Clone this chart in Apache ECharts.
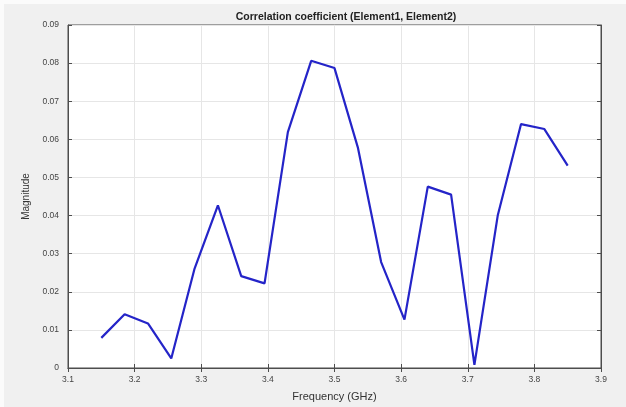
<!DOCTYPE html>
<html><head><meta charset="utf-8">
<script src="https://cdn.jsdelivr.net/npm/echarts@6/dist/echarts.min.js"></script>
<style>html,body{margin:0;padding:0;background:#f0f0f0;}#c{width:626px;height:407px;}</style>
</head><body><div id="c"></div>
<script>
const titleText = 'Correlation coefficient (Element1, Element2)';
const xName = 'Frequency (GHz)';
const yName = 'Magnitude';
const freq = [3.15,3.185,3.22,3.255,3.29,3.325,3.36,3.395,3.43,3.465,3.5,3.535,3.57,3.605,3.64,3.675,3.71,3.745,3.78,3.815,3.85];
const magnitude = [0.0079,0.0141,0.0117,0.0025,0.0261,0.0427,0.0241,0.0222,0.0619,0.0806,0.0787,0.0579,0.0278,0.0127,0.0476,0.0455,0.0008,0.0400,0.0640,0.0627,0.0531];
const xTicks = [3.1,3.2,3.3,3.4,3.5,3.6,3.7,3.8,3.9];
const yTicks = [0,0.01,0.02,0.03,0.04,0.05,0.06,0.07,0.08,0.09];

const chart = echarts.init(document.getElementById('c'), null, {renderer:'canvas'});
const font = 'Liberation Sans, Arial, sans-serif';
const axisCol = '#4d4d4d';
const fmtY = v => v === 0 ? '0' : v.toFixed(2);
chart.setOption({
  backgroundColor: '#f0f0f0',
  animation: false,
  graphic: [
    {type: 'rect', left: 0, top: 0, z: -10, shape: {width: 626, height: 4}, style: {fill: '#fbfbfb'}},
    {type: 'rect', left: 0, top: 0, z: -10, shape: {width: 4, height: 407}, style: {fill: '#fbfbfb'}}
  ],
  title: {text: titleText, left: 341, top: 7, textAlign: 'center',
    textStyle: {fontFamily: font, fontSize: 10.5, fontWeight: 'bold', color: '#222'}},
  grid: {left: 68, right: 25, top: 25, bottom: 39, show: true, backgroundColor: '#fff', borderColor: axisCol, borderWidth: 1},
  xAxis: [{
    type: 'value', min: xTicks[0], max: xTicks[xTicks.length-1], interval: 0.1,
    name: xName, nameLocation: 'middle', nameGap: 23,
    nameTextStyle: {fontFamily: font, fontSize: 11, color: '#333'},
    axisLine: {show: true, lineStyle: {color: axisCol}},
    axisTick: {show: true, inside: true, length: 4, lineStyle: {color: axisCol}},
    axisLabel: {fontFamily: font, fontSize: 8.5, color: '#444', margin: 7, formatter: v => v.toFixed(1)},
    splitLine: {show: true, lineStyle: {color: '#e6e6e6'}}
  },{
    type: 'value', position: 'top', min: xTicks[0], max: xTicks[xTicks.length-1], interval: 0.1,
    axisLine: {show: true, lineStyle: {color: axisCol}},
    axisTick: {show: true, inside: true, length: 4, lineStyle: {color: axisCol}},
    axisLabel: {show: false}, splitLine: {show: false}
  }],
  yAxis: [{
    type: 'value', min: yTicks[0], max: yTicks[yTicks.length-1], interval: 0.01,
    name: yName, nameLocation: 'middle', nameGap: 36, nameRotate: 90,
    nameTextStyle: {fontFamily: font, fontSize: 10, color: '#333'},
    axisLine: {show: true, lineStyle: {color: axisCol}},
    axisTick: {show: true, inside: true, length: 4, lineStyle: {color: axisCol}},
    axisLabel: {fontFamily: font, fontSize: 8.5, color: '#444', margin: 9, formatter: fmtY},
    splitLine: {show: true, lineStyle: {color: '#e6e6e6'}}
  },{
    type: 'value', position: 'right', min: yTicks[0], max: yTicks[yTicks.length-1], interval: 0.01,
    axisLine: {show: true, lineStyle: {color: axisCol}},
    axisTick: {show: true, inside: true, length: 4, lineStyle: {color: axisCol}},
    axisLabel: {show: false}, splitLine: {show: false}
  }],
  series: [{
    type: 'line', xAxisIndex: 0, yAxisIndex: 0,
    data: freq.map((f,i) => [f, magnitude[i]]),
    showSymbol: false, symbol: 'none',
    lineStyle: {color: '#2424c8', width: 2.2}
  }]
});
</script></body></html>
